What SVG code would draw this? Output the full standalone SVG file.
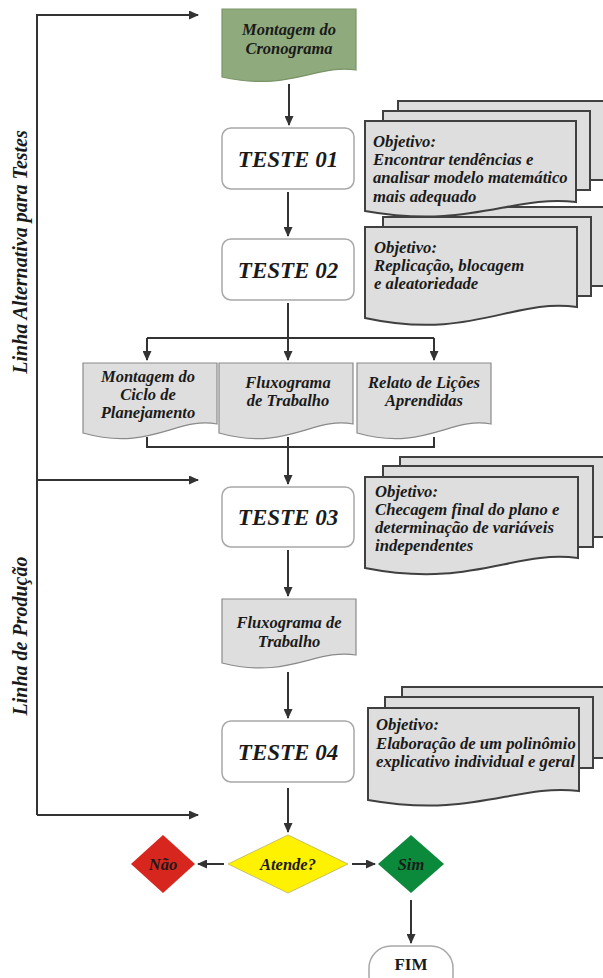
<svg xmlns="http://www.w3.org/2000/svg" width="603" height="978" viewBox="0 0 603 978">
<style>
.t{font-family:"Liberation Serif","Times New Roman",serif;font-weight:bold;font-style:italic;fill:#1a1a1a}
.big{font-size:23px;text-anchor:middle}
.lbl{font-size:16.5px;text-anchor:middle}
.obj{font-size:16.7px}
.side{font-size:20px;text-anchor:middle}
.doc{fill:#dedede;stroke:#8a8a8a;stroke-width:1.2}
.mdoc{fill:#dedede;stroke:#404040;stroke-width:2}
.box{fill:#fff;stroke:#a8a8a8;stroke-width:1.5}
.ln{fill:none;stroke:#333;stroke-width:2}
</style>
<defs>
<marker id="ah" markerUnits="userSpaceOnUse" markerWidth="10" markerHeight="9" refX="9" refY="4.5" orient="auto">
<path d="M0,0 L10,4.5 L0,9 z" fill="#333"/>
</marker>
</defs>

<g id="connectors">
<path class="ln" d="M37,815 V15 H198" marker-end="url(#ah)"/>
<path class="ln" d="M37,480 H198" marker-end="url(#ah)"/>
<path class="ln" d="M37,815 H198" marker-end="url(#ah)"/>
<path class="ln" d="M289,84 V125" marker-end="url(#ah)"/>
<path class="ln" d="M288,192 V236" marker-end="url(#ah)"/>
<path class="ln" d="M288,303 V360" marker-end="url(#ah)"/>
<path class="ln" d="M147,338 H434"/>
<path class="ln" d="M147,338 V360" marker-end="url(#ah)"/>
<path class="ln" d="M434,338 V360" marker-end="url(#ah)"/>
<path class="ln" d="M147,437 V447 H434 V437"/>
<path class="ln" d="M288,437 V484" marker-end="url(#ah)"/>
<path class="ln" d="M288,550 V596" marker-end="url(#ah)"/>
<path class="ln" d="M288,672 V718" marker-end="url(#ah)"/>
<path class="ln" d="M288,788 V832" marker-end="url(#ah)"/>
<path class="ln" d="M224,864 H198" marker-end="url(#ah)"/>
<path class="ln" d="M352,864 H375" marker-end="url(#ah)"/>
<path class="ln" d="M411,900 V943" marker-end="url(#ah)"/>
</g>

<g id="label-alternativa">
<text class="t side" transform="translate(27,252) rotate(-90)">Linha Alternativa para Testes</text>
</g>
<g id="label-producao">
<text class="t side" transform="translate(27,636) rotate(-90)">Linha de Produção</text>
</g>

<g id="montagem-cronograma">
<path d="M222,9 H356 V70 C316,64 289,92 222,77 Z" fill="#8fab7d" stroke="#7a9468" stroke-width="1.2"/>
<text class="t lbl" x="289" y="35">Montagem do</text>
<text class="t lbl" x="289" y="54">Cronograma</text>
</g>

<g id="teste01">
<rect class="box" x="222" y="128" width="132" height="61" rx="9"/>
<text class="t big" x="288" y="167">TESTE 01</text>
</g>

<g id="objetivo02">
<rect class="mdoc" x="398" y="207" width="212" height="79"/>
<rect class="mdoc" x="383" y="217" width="208" height="79"/>
<path class="mdoc" d="M365,227 H577 V307 C513.4,297.7 471,341.1 365,318 Z"/>
<text class="t obj" x="374" y="253">Objetivo:</text>
<text class="t obj" x="374" y="271">Replicação, blocagem</text>
<text class="t obj" x="374" y="289">e aleatoriedade</text>
</g>

<g id="objetivo01">
<rect class="mdoc" x="398" y="101" width="212" height="79"/>
<rect class="mdoc" x="383" y="111" width="207" height="79"/>
<path class="mdoc" d="M365,121 H576 V202 C512.7,194.4 470.5,229.9 365,211 Z"/>
<text class="t obj" x="373" y="147">Objetivo:</text>
<text class="t obj" x="373" y="165">Encontrar tendências e</text>
<text class="t obj" x="373" y="183">analisar modelo matemático</text>
<text class="t obj" x="373" y="202">mais adequado</text>
</g>

<g id="teste02">
<rect class="box" x="222" y="239" width="132" height="61" rx="9"/>
<text class="t big" x="288" y="278">TESTE 02</text>
</g>

<g id="montagem-ciclo">
<path class="doc" d="M83,363 H217 V424 C177,416.4 150,451.9 83,433 Z"/>
<text class="t lbl" x="148" y="382">Montagem do</text>
<text class="t lbl" x="148" y="400">Ciclo de</text>
<text class="t lbl" x="148" y="418">Planejamento</text>
</g>

<g id="fluxograma-1">
<path class="doc" d="M219,363 H353 V424 C313,416.4 286,451.9 219,433 Z"/>
<text class="t lbl" x="288" y="388">Fluxograma</text>
<text class="t lbl" x="288" y="406">de Trabalho</text>
</g>

<g id="relato">
<path class="doc" d="M357,363 H491 V424 C451,416.4 424,451.9 357,433 Z"/>
<text class="t lbl" x="424" y="388">Relato de Lições</text>
<text class="t lbl" x="424" y="406">Aprendidas</text>
</g>

<g id="teste03">
<rect class="box" x="222" y="487" width="132" height="60" rx="9"/>
<text class="t big" x="288" y="525">TESTE 03</text>
</g>

<g id="objetivo03">
<rect class="mdoc" x="400" y="457" width="210" height="80"/>
<rect class="mdoc" x="383" y="466" width="210" height="81"/>
<path class="mdoc" d="M365,477 H578 V558 C514.1,549.5 471.5,589 365,568 Z"/>
<text class="t obj" x="375" y="497">Objetivo:</text>
<text class="t obj" x="375" y="515">Checagem final do plano e</text>
<text class="t obj" x="375" y="533">determinação de variáveis</text>
<text class="t obj" x="375" y="551">independentes</text>
</g>

<g id="fluxograma-2">
<path class="doc" d="M222,599 H356 V655 C316,648.2 289,679.8 222,663 Z"/>
<text class="t lbl" x="289" y="628">Fluxograma de</text>
<text class="t lbl" x="289" y="647">Trabalho</text>
</g>

<g id="teste04">
<rect class="box" x="222" y="721" width="132" height="61" rx="9"/>
<text class="t big" x="288" y="760">TESTE 04</text>
</g>

<g id="objetivo04">
<rect class="mdoc" x="402" y="687" width="208" height="71"/>
<rect class="mdoc" x="385" y="697" width="208" height="71"/>
<path class="mdoc" d="M368,708 H579 V791 C515.7,783.4 473.5,818.9 368,800 Z"/>
<text class="t obj" x="376" y="730">Objetivo:</text>
<text class="t obj" x="376" y="749">Elaboração de um polinômio</text>
<text class="t obj" x="376" y="767">explicativo individual e geral</text>
</g>

<g id="atende">
<path d="M228,864 L288,835 L348,864 L288,893 Z" fill="#fff200" stroke="#c8c060" stroke-width="1"/>
<text class="t lbl" x="288" y="870">Atende?</text>
</g>

<g id="nao">
<path d="M131,864 L163,835 L195,864 L163,893 Z" fill="#d7261e"/>
<text class="t lbl" x="163" y="870">Não</text>
</g>

<g id="sim">
<path d="M378,864 L411,835 L444,864 L411,893 Z" fill="#0b8a3b"/>
<text class="t lbl" x="411" y="870">Sim</text>
</g>

<g id="fim">
<rect class="box" x="369" y="946" width="84" height="52" rx="22"/>
<text x="411" y="970" style="font-family:'Liberation Serif','Times New Roman',serif;font-weight:bold;font-size:17px;text-anchor:middle;fill:#1a1a1a">FIM</text>
</g>
</svg>
